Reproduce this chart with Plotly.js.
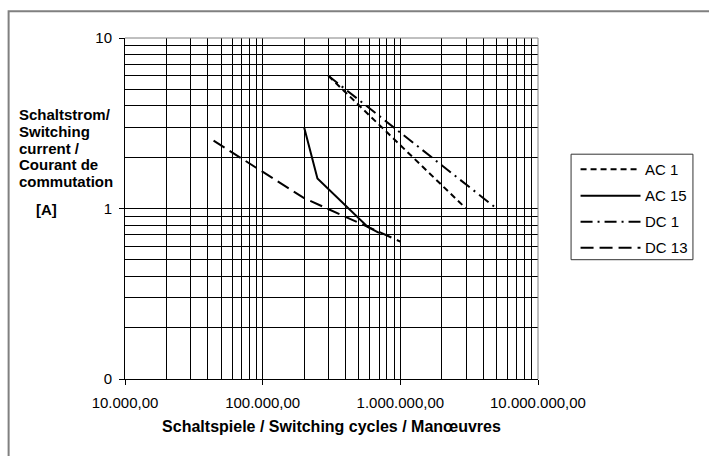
<!DOCTYPE html>
<html>
<head>
<meta charset="utf-8">
<script src="https://cdn.plot.ly/plotly-3.0.1.min.js"></script>
<style>html,body{margin:0;padding:0;background:#fff;}#chart{width:709px;height:456px;}</style>
</head>
<body>
<div id="chart"></div>
<script>
// ---- data ----
const seriesNames = ["AC 1", "AC 15", "DC 1", "DC 13"];
const ac1X = [300000, 3000000];
const ac1Y = [6, 1];
const ac15X = [200000, 250000, 580000, 700000];
const ac15Y = [3, 1.5, 0.78, 0.72];
const dc1X = [300000, 5000000];
const dc1Y = [6, 1];
const dc13X = [44000, 200000, 1000000];
const dc13Y = [2.5, 1.15, 0.64];

const xTickVals = [10000, 100000, 1000000, 10000000];
const xTickText = ["10.000,00", "100.000,00", "1.000.000,00", "10.000.000,00"];
const yTickVals = [0.1, 1, 10];
const yTickText = ["0", "1", "10"];
const yTitleLines = ["Schaltstrom/", "Switching", "current /", "Courant de", "commutation"];
const yUnit = "[A]";
const xTitle = "Schaltspiele / Switching cycles / Manœuvres";

// minor gridline positions (2..9 within each decade)
function minorVals(lo, hi) {
  const out = [];
  for (let d = lo; d < hi; d++) for (let m = 2; m <= 9; m++) out.push(m * Math.pow(10, d));
  return out;
}

const FONT = "Liberation Sans, Arial, sans-serif";
const dashes = ["6px,4px", "solid", "12px,5px,2px,5px", "13px,6px"];
const seriesX = [ac1X, ac15X, dc1X, dc13X];
const seriesY = [ac1Y, ac15Y, dc1Y, dc13Y];

const traces = seriesNames.map((n, i) => ({
  x: seriesX[i], y: seriesY[i], name: n, mode: "lines", showlegend: false,
  line: {color: "#000", width: 2, dash: dashes[i]}
}));

const PL = 125, PR = 538.4, PT = 38.3, PB = 379.3, W = 709, H = 456;
const pw = PR - PL, ph = PB - PT;
function px2paperX(px) { return (px - PL) / pw; }
function px2paperY(py) { return (PB - py) / ph; }

const annotations = [];
const lineY = [115, 131.7, 148.3, 165, 181.7];
yTitleLines.forEach((t, i) => {
  annotations.push({text: t, xref: "paper", yref: "paper", x: px2paperX(17), y: px2paperY(lineY[i]),
    xanchor: "left", yanchor: "middle", showarrow: false, font: {family: FONT, size: 15, color: "#000", weight: "bold"}});
});
annotations.push({text: yUnit, xref: "paper", yref: "paper", x: px2paperX(46), y: px2paperY(210),
  xanchor: "center", yanchor: "middle", showarrow: false, font: {family: FONT, size: 15, color: "#000", weight: "bold"}});

const shapes = [
  {type: "rect", xref: "paper", yref: "paper", x0: px2paperX(8.5), x1: px2paperX(760), y0: px2paperY(500), y1: px2paperY(11.5),
    line: {color: "#808080", width: 2}, fillcolor: "rgba(0,0,0,0)", layer: "below"},
  {type: "line", xref: "paper", yref: "paper", x0: 0, x1: 1, y0: 1, y1: 1, line: {color: "#808080", width: 1}, layer: "above"},
  {type: "line", xref: "paper", yref: "paper", x0: 1, x1: 1, y0: 0, y1: 1, line: {color: "#808080", width: 1}, layer: "above"},
  // legend box
  {type: "rect", xref: "paper", yref: "paper", x0: px2paperX(571.5), x1: px2paperX(693.5), y0: px2paperY(260), y1: px2paperY(154.5),
    line: {color: "#333", width: 1}, fillcolor: "#fff", layer: "above"}
];
// legend entries
const legRowY = [169.5, 196, 222, 248];
seriesNames.forEach((n, i) => {
  shapes.push({type: "line", xref: "paper", yref: "paper", x0: px2paperX(581), x1: px2paperX(641),
    y0: px2paperY(legRowY[i]), y1: px2paperY(legRowY[i]), line: {color: "#000", width: 2, dash: dashes[i]}, layer: "above"});
  annotations.push({text: n, xref: "paper", yref: "paper", x: px2paperX(644), y: px2paperY(legRowY[i]),
    xanchor: "left", yanchor: "middle", showarrow: false, font: {family: FONT, size: 15, color: "#000"}});
});

const layout = {
  width: W, height: H,
  margin: {l: PL, r: W - PR, t: PT, b: H - PB, pad: 0},
  paper_bgcolor: "#fff", plot_bgcolor: "#fff",
  font: {family: FONT, size: 15, color: "#000"},
  showlegend: false,
  xaxis: {
    type: "log", range: [4, 7], tickmode: "array", tickvals: xTickVals, ticktext: xTickText,
    ticks: "outside", ticklen: 5, tickcolor: "#000", showline: true, linecolor: "#000", linewidth: 1,
    showgrid: true, gridcolor: "#000", gridwidth: 1, zeroline: false,
    minor: {tickmode: "array", tickvals: minorVals(4, 7), showgrid: true, gridcolor: "#000", gridwidth: 1, ticks: ""},
    tickfont: {family: FONT, size: 15, color: "#000"}, ticklabelstandoff: 5,
    title: {text: xTitle, font: {family: FONT, size: 16, color: "#000", weight: "bold"}, standoff: 10}
  },
  yaxis: {
    type: "log", range: [-1, 1], tickmode: "array", tickvals: yTickVals, ticktext: yTickText,
    ticks: "outside", ticklen: 5, tickcolor: "#000", showline: true, linecolor: "#000", linewidth: 1,
    showgrid: true, gridcolor: "#000", gridwidth: 1, zeroline: false,
    minor: {tickmode: "array", tickvals: minorVals(-1, 1), showgrid: true, gridcolor: "#000", gridwidth: 1, ticks: ""},
    tickfont: {family: FONT, size: 15, color: "#000"}, ticklabelstandoff: 4,
    title: {text: ""}
  },
  annotations: annotations,
  shapes: shapes
};

Plotly.newPlot("chart", traces, layout, {displayModeBar: false, staticPlot: true});
</script>
</body>
</html>
